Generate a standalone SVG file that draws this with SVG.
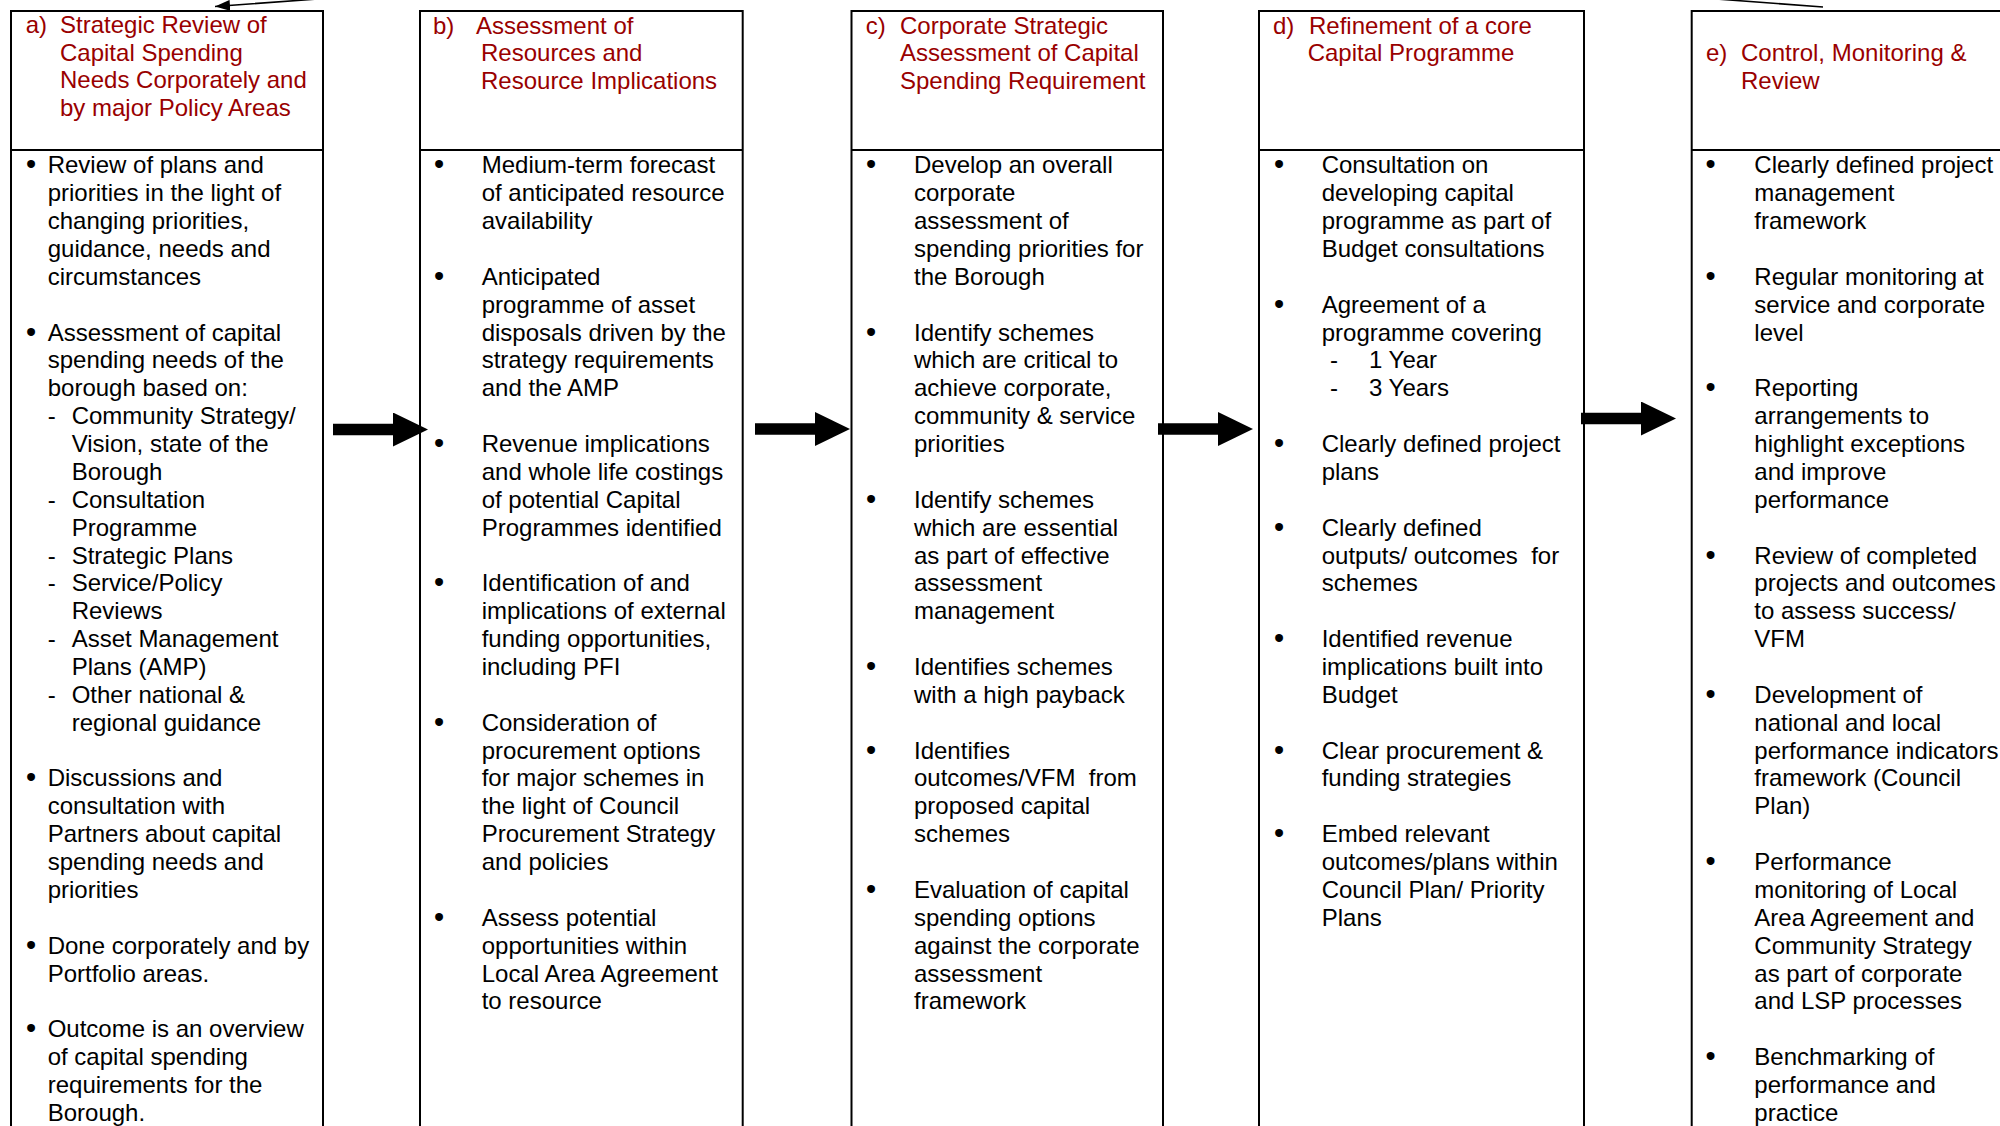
<svg xmlns="http://www.w3.org/2000/svg" width="2000" height="1126" viewBox="0 0 2000 1126">
<style>
.hd{font-family:"Liberation Sans",Arial,sans-serif;font-size:24px;fill:#990000}
.tx{font-family:"Liberation Sans",Arial,sans-serif;font-size:24px;fill:#000}
.bl{font-family:"Liberation Sans",Arial,sans-serif;font-size:29px;fill:#000;text-anchor:middle}
.box{fill:none;stroke:#000;stroke-width:2}
.div{stroke:#000;stroke-width:2}
.flow{stroke:#000;stroke-width:11.5;fill:none}
.ret{stroke:#000;stroke-width:1.6;fill:none}
</style>
<defs>
<marker id="big" markerUnits="userSpaceOnUse" markerWidth="36" markerHeight="36" refX="0" refY="17" orient="auto">
<path d="M0,0 L35,17 L0,34 z" fill="#000"/>
</marker>
<marker id="small" markerUnits="userSpaceOnUse" markerWidth="16" markerHeight="12" refX="15" refY="5.5" orient="auto">
<path d="M0,0 L15,5.5 L0,11 z" fill="#000"/>
</marker>
</defs>
<rect width="2000" height="1126" fill="#fff"/>

<g id="connectors">
<line class="flow" x1="333" y1="429.5" x2="393" y2="429.5" marker-end="url(#big)"/>
<line class="flow" x1="755" y1="429" x2="815" y2="429" marker-end="url(#big)"/>
<line class="flow" x1="1158" y1="429" x2="1218" y2="429" marker-end="url(#big)"/>
<line class="flow" x1="1581" y1="418.5" x2="1641" y2="418.5" marker-end="url(#big)"/>
<path class="ret" d="M1823,7 L1630,-7.5 L406,-7.5 L215,6.5" marker-end="url(#small)"/>
</g>

<g id="node-a">
<rect class="box" x="11" y="11" width="312" height="1140"/>
<line class="div" x1="11" y1="150" x2="323" y2="150"/>
<text class="hd"><tspan x="25.7" y="33.3">a)</tspan><tspan x="60" y="33.3">Strategic Review of</tspan><tspan x="60" y="60.8">Capital Spending</tspan><tspan x="60" y="88.3">Needs Corporately and</tspan><tspan x="60" y="115.8">by major Policy Areas</tspan></text>
<text class="bl"><tspan x="31" y="174.3">•</tspan><tspan x="31" y="341.5">•</tspan><tspan x="31" y="787.4">•</tspan><tspan x="31" y="954.7">•</tspan><tspan x="31" y="1038.3">•</tspan></text>
<text class="tx">
<tspan x="47.7" y="173.3">Review of plans and</tspan>
<tspan x="47.7" y="201.2">priorities in the light of</tspan>
<tspan x="47.7" y="229">changing priorities,</tspan>
<tspan x="47.7" y="256.9">guidance, needs and</tspan>
<tspan x="47.7" y="284.8">circumstances</tspan>
<tspan x="47.7" y="340.5">Assessment of capital</tspan>
<tspan x="47.7" y="368.4">spending needs of the</tspan>
<tspan x="47.7" y="396.3">borough based on:</tspan>
<tspan x="47.7" y="424.1">-</tspan><tspan x="71.7" y="424.1">Community Strategy/</tspan>
<tspan x="71.7" y="452">Vision, state of the</tspan>
<tspan x="71.7" y="479.9">Borough</tspan>
<tspan x="47.7" y="507.7">-</tspan><tspan x="71.7" y="507.7">Consultation</tspan>
<tspan x="71.7" y="535.6">Programme</tspan>
<tspan x="47.7" y="563.5">-</tspan><tspan x="71.7" y="563.5">Strategic Plans</tspan>
<tspan x="47.7" y="591.4">-</tspan><tspan x="71.7" y="591.4">Service/Policy</tspan>
<tspan x="71.7" y="619.2">Reviews</tspan>
<tspan x="47.7" y="647.1">-</tspan><tspan x="71.7" y="647.1">Asset Management</tspan>
<tspan x="71.7" y="675">Plans (AMP)</tspan>
<tspan x="47.7" y="702.8">-</tspan><tspan x="71.7" y="702.8">Other national &amp;</tspan>
<tspan x="71.7" y="730.7">regional guidance</tspan>
<tspan x="47.7" y="786.4">Discussions and</tspan>
<tspan x="47.7" y="814.3">consultation with</tspan>
<tspan x="47.7" y="842.2">Partners about capital</tspan>
<tspan x="47.7" y="870.1">spending needs and</tspan>
<tspan x="47.7" y="897.9">priorities</tspan>
<tspan x="47.7" y="953.7">Done corporately and by</tspan>
<tspan x="47.7" y="981.5">Portfolio areas.</tspan>
<tspan x="47.7" y="1037.3">Outcome is an overview</tspan>
<tspan x="47.7" y="1065.1">of capital spending</tspan>
<tspan x="47.7" y="1093">requirements for the</tspan>
<tspan x="47.7" y="1120.9">Borough.</tspan>
</text>
</g>

<g id="node-b">
<rect class="box" x="420" y="11" width="322.7" height="1140"/>
<line class="div" x1="420" y1="150" x2="742.7" y2="150"/>
<text class="hd"><tspan x="433" y="33.5">b)</tspan><tspan x="476" y="33.5">Assessment of</tspan><tspan x="481" y="61">Resources and</tspan><tspan x="481" y="88.5">Resource Implications</tspan></text>
<text class="bl"><tspan x="439" y="174.3">•</tspan><tspan x="439" y="285.8">•</tspan><tspan x="439" y="453">•</tspan><tspan x="439" y="592.4">•</tspan><tspan x="439" y="731.7">•</tspan><tspan x="439" y="926.8">•</tspan></text>
<text class="tx">
<tspan x="481.7" y="173.3">Medium-term forecast</tspan>
<tspan x="481.7" y="201.2">of anticipated resource</tspan>
<tspan x="481.7" y="229">availability</tspan>
<tspan x="481.7" y="284.8">Anticipated</tspan>
<tspan x="481.7" y="312.7">programme of asset</tspan>
<tspan x="481.7" y="340.5">disposals driven by the</tspan>
<tspan x="481.7" y="368.4">strategy requirements</tspan>
<tspan x="481.7" y="396.3">and the AMP</tspan>
<tspan x="481.7" y="452">Revenue implications</tspan>
<tspan x="481.7" y="479.9">and whole life costings</tspan>
<tspan x="481.7" y="507.7">of potential Capital</tspan>
<tspan x="481.7" y="535.6">Programmes identified</tspan>
<tspan x="481.7" y="591.4">Identification of and</tspan>
<tspan x="481.7" y="619.2">implications of external</tspan>
<tspan x="481.7" y="647.1">funding opportunities,</tspan>
<tspan x="481.7" y="675">including PFI</tspan>
<tspan x="481.7" y="730.7">Consideration of</tspan>
<tspan x="481.7" y="758.6">procurement options</tspan>
<tspan x="481.7" y="786.4">for major schemes in</tspan>
<tspan x="481.7" y="814.3">the light of Council</tspan>
<tspan x="481.7" y="842.2">Procurement Strategy</tspan>
<tspan x="481.7" y="870.1">and policies</tspan>
<tspan x="481.7" y="925.8">Assess potential</tspan>
<tspan x="481.7" y="953.7">opportunities within</tspan>
<tspan x="481.7" y="981.5">Local Area Agreement</tspan>
<tspan x="481.7" y="1009.4">to resource</tspan>
</text>
</g>

<g id="node-c">
<rect class="box" x="851.5" y="11" width="311.5" height="1140"/>
<line class="div" x1="851.5" y1="150" x2="1163" y2="150"/>
<text class="hd"><tspan x="865.7" y="33.5">c)</tspan><tspan x="900" y="33.5">Corporate Strategic</tspan><tspan x="900" y="61">Assessment of Capital</tspan><tspan x="900" y="88.5">Spending Requirement</tspan></text>
<text class="bl"><tspan x="871" y="174.3">•</tspan><tspan x="871" y="341.5">•</tspan><tspan x="871" y="508.7">•</tspan><tspan x="871" y="676">•</tspan><tspan x="871" y="759.6">•</tspan><tspan x="871" y="898.9">•</tspan></text>
<text class="tx">
<tspan x="914" y="173.3">Develop an overall</tspan>
<tspan x="914" y="201.2">corporate</tspan>
<tspan x="914" y="229">assessment of</tspan>
<tspan x="914" y="256.9">spending priorities for</tspan>
<tspan x="914" y="284.8">the Borough</tspan>
<tspan x="914" y="340.5">Identify schemes</tspan>
<tspan x="914" y="368.4">which are critical to</tspan>
<tspan x="914" y="396.3">achieve corporate,</tspan>
<tspan x="914" y="424.1">community &amp; service</tspan>
<tspan x="914" y="452">priorities</tspan>
<tspan x="914" y="507.7">Identify schemes</tspan>
<tspan x="914" y="535.6">which are essential</tspan>
<tspan x="914" y="563.5">as part of effective</tspan>
<tspan x="914" y="591.4">assessment</tspan>
<tspan x="914" y="619.2">management</tspan>
<tspan x="914" y="675">Identifies schemes</tspan>
<tspan x="914" y="702.8">with a high payback</tspan>
<tspan x="914" y="758.6">Identifies</tspan>
<tspan x="914" y="786.4" xml:space="preserve">outcomes/VFM  from</tspan>
<tspan x="914" y="814.3">proposed capital</tspan>
<tspan x="914" y="842.2">schemes</tspan>
<tspan x="914" y="897.9">Evaluation of capital</tspan>
<tspan x="914" y="925.8">spending options</tspan>
<tspan x="914" y="953.7">against the corporate</tspan>
<tspan x="914" y="981.5">assessment</tspan>
<tspan x="914" y="1009.4">framework</tspan>
</text>
</g>

<g id="node-d">
<rect class="box" x="1259" y="11" width="325" height="1140"/>
<line class="div" x1="1259" y1="150" x2="1584" y2="150"/>
<text class="hd"><tspan x="1273" y="33.5">d)</tspan><tspan x="1309" y="33.5">Refinement of a core</tspan><tspan x="1307.7" y="61">Capital Programme</tspan></text>
<text class="bl"><tspan x="1279" y="174.3">•</tspan><tspan x="1279" y="313.7">•</tspan><tspan x="1279" y="453">•</tspan><tspan x="1279" y="536.6">•</tspan><tspan x="1279" y="648.1">•</tspan><tspan x="1279" y="759.6">•</tspan><tspan x="1279" y="843.2">•</tspan></text>
<text class="tx">
<tspan x="1321.7" y="173.3">Consultation on</tspan>
<tspan x="1321.7" y="201.2">developing capital</tspan>
<tspan x="1321.7" y="229">programme as part of</tspan>
<tspan x="1321.7" y="256.9">Budget consultations</tspan>
<tspan x="1321.7" y="312.7">Agreement of a</tspan>
<tspan x="1321.7" y="340.5">programme covering</tspan>
<tspan x="1330" y="368.4">-</tspan><tspan x="1369" y="368.4">1 Year</tspan>
<tspan x="1330" y="396.3">-</tspan><tspan x="1369" y="396.3">3 Years</tspan>
<tspan x="1321.7" y="452">Clearly defined project</tspan>
<tspan x="1321.7" y="479.9">plans</tspan>
<tspan x="1321.7" y="535.6">Clearly defined</tspan>
<tspan x="1321.7" y="563.5" xml:space="preserve">outputs/ outcomes  for</tspan>
<tspan x="1321.7" y="591.4">schemes</tspan>
<tspan x="1321.7" y="647.1">Identified revenue</tspan>
<tspan x="1321.7" y="675">implications built into</tspan>
<tspan x="1321.7" y="702.8">Budget</tspan>
<tspan x="1321.7" y="758.6">Clear procurement &amp;</tspan>
<tspan x="1321.7" y="786.4">funding strategies</tspan>
<tspan x="1321.7" y="842.2">Embed relevant</tspan>
<tspan x="1321.7" y="870.1">outcomes/plans within</tspan>
<tspan x="1321.7" y="897.9">Council Plan/ Priority</tspan>
<tspan x="1321.7" y="925.8">Plans</tspan>
</text>
</g>

<g id="node-e">
<rect class="box" x="1691.7" y="11" width="340" height="1140"/>
<line class="div" x1="1691.7" y1="150" x2="2010" y2="150"/>
<text class="hd"><tspan x="1706" y="61">e)</tspan><tspan x="1741" y="61">Control, Monitoring &amp;</tspan><tspan x="1741" y="88.5">Review</tspan></text>
<text class="bl"><tspan x="1710.7" y="174.3">•</tspan><tspan x="1710.7" y="285.8">•</tspan><tspan x="1710.7" y="397.3">•</tspan><tspan x="1710.7" y="564.5">•</tspan><tspan x="1710.7" y="703.8">•</tspan><tspan x="1710.7" y="871.1">•</tspan><tspan x="1710.7" y="1066.1">•</tspan></text>
<text class="tx">
<tspan x="1754.3" y="173.3">Clearly defined project</tspan>
<tspan x="1754.3" y="201.2">management</tspan>
<tspan x="1754.3" y="229">framework</tspan>
<tspan x="1754.3" y="284.8">Regular monitoring at</tspan>
<tspan x="1754.3" y="312.7">service and corporate</tspan>
<tspan x="1754.3" y="340.5">level</tspan>
<tspan x="1754.3" y="396.3">Reporting</tspan>
<tspan x="1754.3" y="424.1">arrangements to</tspan>
<tspan x="1754.3" y="452">highlight exceptions</tspan>
<tspan x="1754.3" y="479.9">and improve</tspan>
<tspan x="1754.3" y="507.7">performance</tspan>
<tspan x="1754.3" y="563.5">Review of completed</tspan>
<tspan x="1754.3" y="591.4">projects and outcomes</tspan>
<tspan x="1754.3" y="619.2">to assess success/</tspan>
<tspan x="1754.3" y="647.1">VFM</tspan>
<tspan x="1754.3" y="702.8">Development of</tspan>
<tspan x="1754.3" y="730.7">national and local</tspan>
<tspan x="1754.3" y="758.6">performance indicators</tspan>
<tspan x="1754.3" y="786.4">framework (Council</tspan>
<tspan x="1754.3" y="814.3">Plan)</tspan>
<tspan x="1754.3" y="870.1">Performance</tspan>
<tspan x="1754.3" y="897.9">monitoring of Local</tspan>
<tspan x="1754.3" y="925.8">Area Agreement and</tspan>
<tspan x="1754.3" y="953.7">Community Strategy</tspan>
<tspan x="1754.3" y="981.5">as part of corporate</tspan>
<tspan x="1754.3" y="1009.4">and LSP processes</tspan>
<tspan x="1754.3" y="1065.1">Benchmarking of</tspan>
<tspan x="1754.3" y="1093">performance and</tspan>
<tspan x="1754.3" y="1120.9">practice</tspan>
</text>
</g>
</svg>
